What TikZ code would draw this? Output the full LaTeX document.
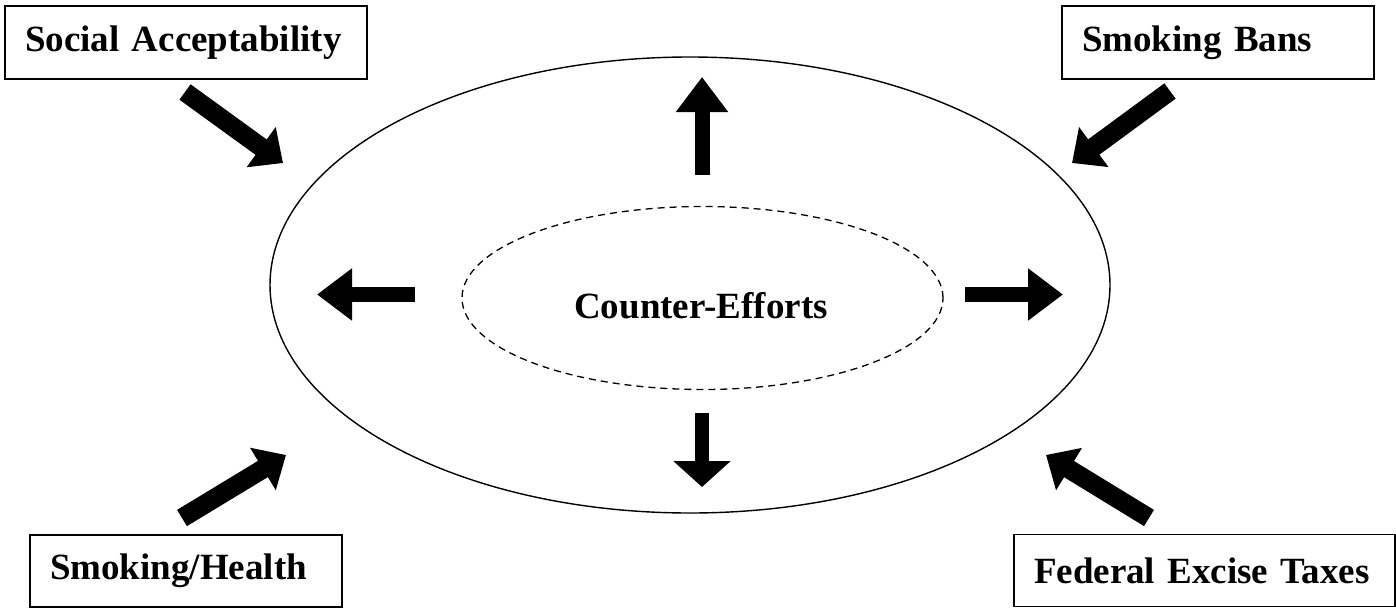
\documentclass[tikz,border=0pt]{standalone}
\usepackage{fontspec}
\setmainfont{Liberation Serif}
\usetikzlibrary{arrows.meta,shapes.geometric}

\begin{document}
\begin{tikzpicture}[x=1pt,y=-1pt,
  labelbox/.style={draw, line width=1.8pt, minimum height=73pt, inner xsep=20pt,
    inner ysep=0pt, align=left, font=\bfseries\fontsize{37}{40}\selectfont},
  outerring/.style={draw, ellipse, line width=1.4pt, inner sep=0pt},
  innerring/.style={draw, ellipse, line width=1.3pt, dash pattern=on 7pt off 5pt, inner sep=0pt},
  flow/.style={line width=15pt, -{Triangle[length=35pt,width=50pt]}},
  push/.style={line width=19pt, -{Triangle[length=27pt,width=48pt]}}
]
\useasboundingbox (0,0) rectangle (1396,608);

% factor boxes
\node[labelbox, text width=322pt] (social) at (186,42.5) {Social Acceptability};
\node[labelbox, text width=272pt] (bans)   at (1218,42.5) {Smoking Bans};
\node[labelbox, text width=272pt, minimum height=72pt] (health) at (186,571) {Smoking/Health};
\node[labelbox, text width=341pt, minimum height=72pt] (taxes)  at (1204.5,570.5) {Federal Excise Taxes};

% rings
\node[outerring, minimum width=840pt, minimum height=456pt] (ring) at (690,285) {};
\node[innerring, minimum width=481pt, minimum height=183pt] (core) at (702.5,298) {};
\node[font=\bfseries\fontsize{37}{40}\selectfont, inner sep=0pt] (ce) at (701,306) {Counter-Efforts};

% arrow end points
\coordinate (sA) at (185,92);   \coordinate (sB) at (283,163);
\coordinate (bA) at (1170,91);  \coordinate (bB) at (1072,163);
\coordinate (hA) at (182,518);  \coordinate (hB) at (286,455);
\coordinate (tA) at (1149,518); \coordinate (tB) at (1046,455);
\coordinate (uA) at (702,175);  \coordinate (uB) at (702,77);
\coordinate (dA) at (702,413);  \coordinate (dB) at (702,487);
\coordinate (lA) at (415,294.5); \coordinate (lB) at (317,294.5);
\coordinate (rA) at (965,294.5); \coordinate (rB) at (1063,294.5);

% inward pressures
\draw[push] (sA) -- (sB);
\draw[push] (bA) -- (bB);
\draw[push] (hA) -- (hB);
\draw[push] (tA) -- (tB);

% outward counter-efforts
\draw[flow] (uA) -- (uB);
\draw[flow] (lA) -- (lB);
\draw[flow] (rA) -- (rB);
\draw[line width=14pt, -{Triangle[length=26pt,width=56pt]}] (dA) -- (dB);
\end{tikzpicture}
\end{document}
